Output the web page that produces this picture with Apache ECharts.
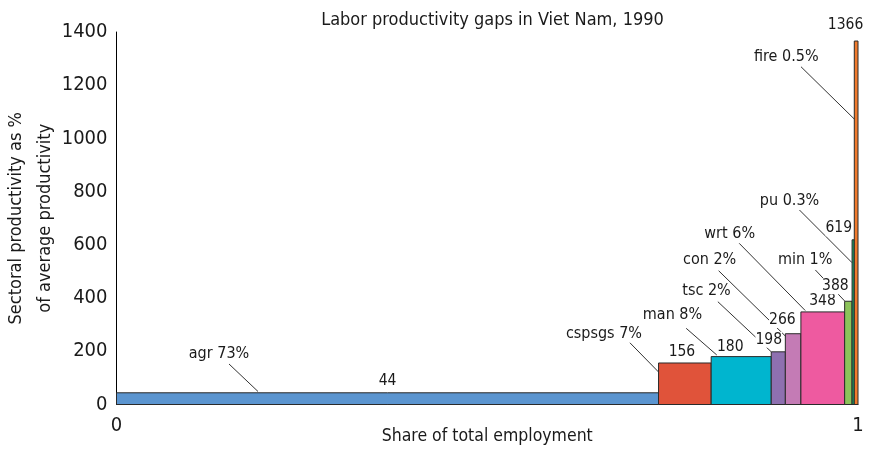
<!DOCTYPE html>
<html>
<head>
<meta charset="utf-8">
<script src="https://cdn.jsdelivr.net/npm/echarts@6/dist/echarts.min.js"></script>
<style>
html,body{margin:0;padding:0;background:#fff;}
#chart{width:870px;height:450px;}
</style>
</head>
<body>
<div id="chart"></div>
<script>
// ---- data ----
const sectors = ['agr', 'cspsgs', 'man', 'tsc', 'con', 'wrt', 'min', 'pu', 'fire'];
const shares = [0.731, 0.071, 0.081, 0.019, 0.021, 0.059, 0.010, 0.003, 0.005];
const shareLabels = ['73%', '7%', '8%', '2%', '2%', '6%', '1%', '0.3%', '0.5%'];
const productivity = [44, 156, 180, 198, 266, 348, 388, 619, 1366];
const xTickLabels = ['0', '1'];
const yTicks = [0, 200, 400, 600, 800, 1000, 1200, 1400];

// ---- styles / layout (pixel offsets relative to each bar's top-left corner) ----
const colors = ['#5b95d0', '#e0533a', '#00b5cf', '#8e70b0', '#c47bb5', '#ee5aa0', '#8cc35a', '#1aa56a', '#f07a2c'];
const labelLayout = [
  // lineEnd, lineStart, name text centre, value text centre
  {end: [141.5, -1.3], start: [112.5, -28.8], name: [102.5, -39.3], val: [271, -11.8]},
  {end: [0, 9], start: [-28.6, -20.2], name: [-54.6, -28.9], val: [23.4, -11.2]},
  {end: [5.6, -1.6], start: [-25, -28.3], name: [-38.7, -41.6], val: [19.1, -9.9]},
  {end: [0, 0], start: [-53.4, -50.1], name: [-64.7, -60.8], val: [-2.5, -12.1]},
  {end: [0.5, 2.8], start: [-66.7, -63], name: [-75.7, -73.7], val: [-3, -13.7]},
  {end: [4.3, -1.4], start: [-61.7, -68.6], name: [-71.2, -77.9], val: [21.6, -10.9]},
  {end: [0, -0.3], start: [-29.3, -31.3], name: [-39.5, -41.3], val: [-9.3, -15]},
  {end: [0, 22.9], start: [-52.6, -29.8], name: [-62.5, -38.8], val: [-13.3, -11.5]},
  {end: [0, 78], start: [-53.3, 25.7], name: [-68, 15.7], val: [-8.7, -16]}
];
const FONT = "'Liberation Sans Narrow', 'DejaVu Sans Condensed', 'Roboto', sans-serif";

// build series data: [start, end, value, index]
const seriesData = [];
let acc = 0;
for (let i = 0; i < sectors.length; i++) {
  seriesData.push([acc, acc + shares[i], productivity[i], i]);
  acc += shares[i];
}

const chart = echarts.init(document.getElementById('chart'), null, {renderer: 'canvas'});

function renderItem(params, api) {
  const i = api.value(3);
  const tl = api.coord([api.value(0), api.value(2)]);
  const br = api.coord([api.value(1), 0]);
  const L = labelLayout[i];
  const ox = tl[0], oy = tl[1];
  return {
    type: 'group',
    children: [
      {
        type: 'rect',
        z2: 1,
        shape: {x: tl[0], y: tl[1], width: br[0] - tl[0], height: br[1] - tl[1]},
        style: {fill: colors[i], stroke: '#2a2a2a', lineWidth: 1}
      },
      {
        type: 'line',
        z2: 10,
        shape: {x1: ox + L.start[0], y1: oy + L.start[1], x2: ox + L.end[0], y2: oy + L.end[1]},
        style: {stroke: '#333', lineWidth: 1}
      },
      {
        type: 'text',
        z2: 20,
        style: {
          text: sectors[i] + ' ' + shareLabels[i],
          x: ox + L.name[0], y: oy + L.name[1],
          align: 'center', verticalAlign: 'middle',
          fontFamily: FONT, fontSize: 16, fill: '#1a1a1a'
        }
      },
      {
        type: 'text',
        z2: 20,
        style: {
          text: String(productivity[i]),
          x: ox + L.val[0], y: oy + L.val[1],
          align: 'center', verticalAlign: 'middle',
          fontFamily: FONT, fontSize: 15.5, fill: '#1a1a1a',
          backgroundColor: '#fff'
        }
      }
    ]
  };
}

chart.setOption({
  animation: false,
  backgroundColor: '#fff',
  title: {
    text: 'Labor productivity gaps in Viet Nam, 1990',
    left: 487.5, top: 6, textAlign: 'center',
    textStyle: {fontFamily: FONT, fontSize: 18, fontWeight: 'normal', color: '#1a1a1a'}
  },
  grid: {left: 116.5, right: 12, top: 32, bottom: 45.5, containLabel: false, outerBoundsMode: 'none'},
  xAxis: {
    type: 'value', min: 0, max: 1, interval: 1,
    name: 'Share of total employment', nameLocation: 'middle', nameGap: 23, nameMoveOverlap: false,
    nameTextStyle: {fontFamily: FONT, fontSize: 17.5, color: '#1a1a1a'},
    axisLine: {show: true, lineStyle: {color: '#000', width: 1}},
    axisTick: {show: false}, splitLine: {show: false},
    axisLabel: {
      fontFamily: FONT, fontSize: 20, color: '#1a1a1a', margin: 11,
      formatter: v => xTickLabels[Math.round(v)]
    }
  },
  yAxis: {
    type: 'value', min: yTicks[0], max: yTicks[yTicks.length - 1], interval: 200,
    name: 'Sectoral productivity as %\nof average productivity',
    nameLocation: 'middle', nameGap: 57, nameRotate: 90, nameMoveOverlap: false,
    nameTextStyle: {fontFamily: FONT, fontSize: 18, color: '#1a1a1a', lineHeight: 29},
    axisLine: {show: true, lineStyle: {color: '#000', width: 1}},
    axisTick: {show: false}, splitLine: {show: false},
    axisLabel: {fontFamily: FONT, fontSize: 20, color: '#1a1a1a', margin: 9, formatter: v => String(v)}
  },
  series: [{
    type: 'custom',
    renderItem: renderItem,
    encode: {x: [0, 1], y: 2},
    data: seriesData
  }]
});
</script>
</body>
</html>
